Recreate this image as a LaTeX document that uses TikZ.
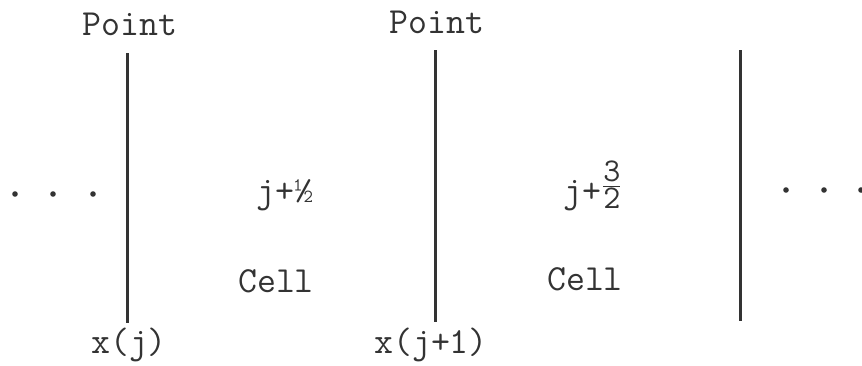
\documentclass[tikz,border=0pt]{standalone}
\usepackage{fontspec}
\usepackage{amsmath}
\usetikzlibrary{positioning, calc}
\definecolor{inkgray}{HTML}{333333}

\begin{document}
\begin{tikzpicture}[
    x=0.5pt, y=-0.5pt,
    label/.style={font=\ttfamily\fontsize{18.4}{21}\selectfont, text=inkgray, inner sep=0pt, anchor=base},
    gridline/.style={draw=inkgray, line width=1.5pt},
    dot/.style={circle, fill=inkgray, inner sep=0pt, minimum size=2.8pt}
]
\useasboundingbox (0,0) rectangle (862,365);

% Nodes
\coordinate (top1) at (127,53);  \coordinate (bot1) at (127,323);
\coordinate (top2) at (435,50);  \coordinate (bot2) at (435,322);
\coordinate (top3) at (740,50);  \coordinate (bot3) at (740,321);

\node[label] (point1) at (130,35) {Point};
\node[label] (point2) at (437,33) {Point};
\node[label] (xj) at (129,353) {x(j)};
\node[label] (xj1) at (431,353) {x(j+1)};

\node[label] (half1) at (285,202) {j+½};
\node[label] (half3) at (593,202) {j+\raisebox{4pt}{\scalebox{0.9}{$\frac{\mbox{3}}{\mbox{2}}$}}};
\node[label] (cell1) at (276,292) {Cell};
\node[label] (cell2) at (585,290) {Cell};

\foreach \i/\x in {1/15, 2/53, 3/93}
    \node[dot] (ldot\i) at (\x,194) {};
\foreach \i/\x in {1/786, 2/824, 3/861}
    \node[dot] (rdot\i) at (\x,190) {};

% Lines
\draw[gridline] (top1) -- (bot1);
\draw[gridline] (top2) -- (bot2);
\draw[gridline] (top3) -- (bot3);

\end{tikzpicture}
\end{document}
